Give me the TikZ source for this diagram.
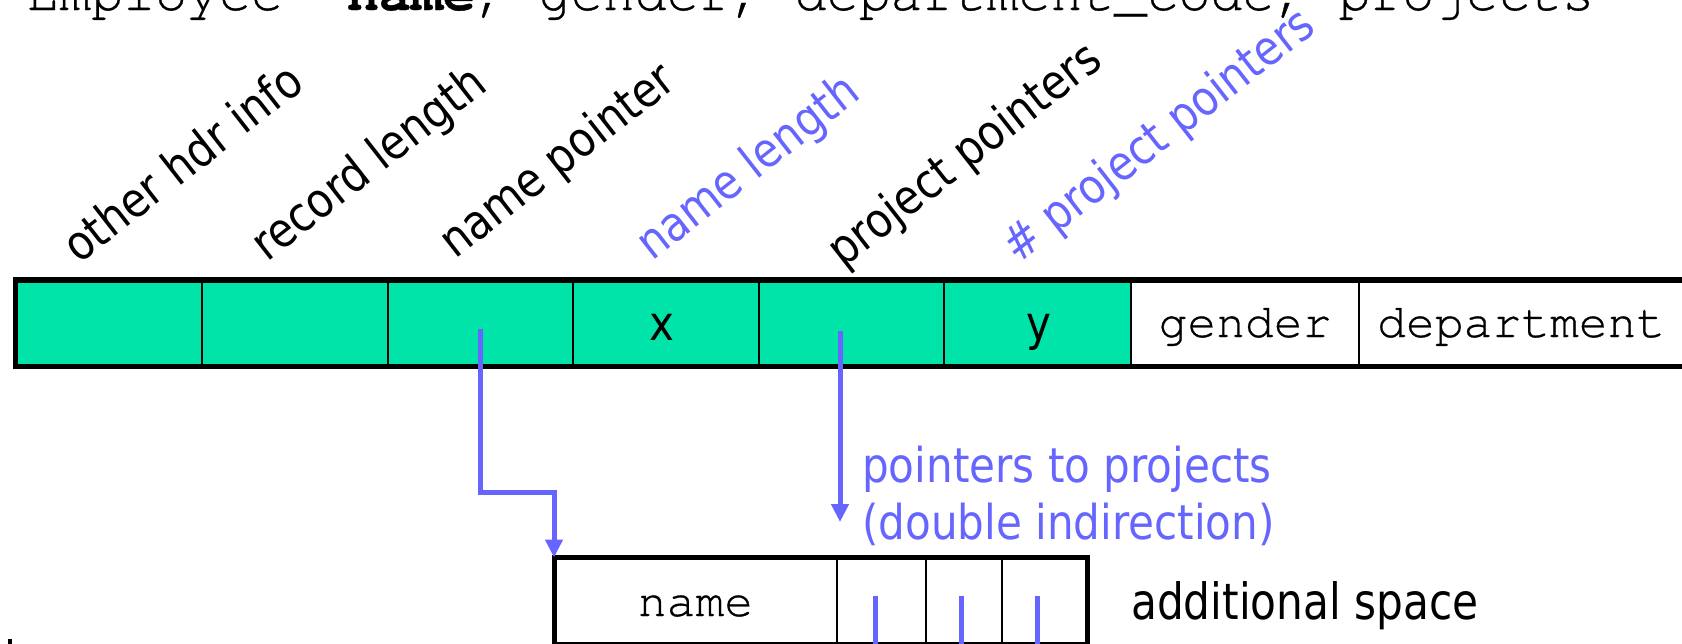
\documentclass[tikz,border=0pt]{standalone}
\usepackage{fontspec}
\usetikzlibrary{arrows.meta}
\newfontfamily\labelfont[FakeStretch=0.877]{DejaVu Sans}
\newfontfamily\notefont[FakeStretch=0.845]{DejaVu Sans}
\newfontfamily\codefont[FakeBold=0.6]{TeX Gyre Cursor}
\definecolor{cellgreen}{RGB}{0,228,170}
\definecolor{ptrblue}{RGB}{102,102,255}

\begin{document}
\begin{tikzpicture}[x=1pt,y=-1pt,
  hdrcell/.style={rectangle, draw=black, line width=2pt, fill=cellgreen,
    minimum height=86.5pt, inner sep=0pt, outer sep=0pt},
  datacell/.style={hdrcell, fill=white},
  extcell/.style={rectangle, draw=black, line width=2pt, fill=white,
    minimum height=86.5pt, inner sep=0pt, outer sep=0pt},
  frame/.style={draw=black, line width=5.5pt, line join=miter},
  ptr/.style={draw=ptrblue, line width=5pt, line join=miter},
  ptrtip/.style={ptr, -{Triangle[length=18pt,width=17pt]}},
  fieldname/.style={inner sep=0pt, font=\labelfont\fontsize{48}{58}\selectfont,
    rotate=38, anchor=base west},
  sizefield/.style={fieldname, text=ptrblue},
  celltext/.style={inner sep=0pt, anchor=base, font=\labelfont\fontsize{48}{58}\selectfont},
  codetext/.style={inner sep=0pt, font=\codefont\fontsize{48}{58}\selectfont},
  note/.style={inner sep=0pt, anchor=base west, font=\labelfont\fontsize{48}{58}\selectfont},
]
\useasboundingbox (0,0) rectangle (1682,643);
\clip (0,0) rectangle (1682,643);

% schema line across the top
\node[inner sep=0pt, anchor=base west, font=\codefont\fontsize{53.3}{60}\selectfont]
  (schema) at (27,10) {Employee\ \ \textbf{name}, gender, department\_code, projects};

% record: header fields (green) followed by fixed-length data fields
\node[hdrcell, minimum width=186.5pt] (c1) at (108.75,323.25) {};
\node[hdrcell, minimum width=186pt]   (c2) at (295,323.25) {};
\node[hdrcell, minimum width=185pt]   (c3) at (480.5,323.25) {};
\node[hdrcell, minimum width=185.5pt] (c4) at (665.75,323.25) {};
\node[hdrcell, minimum width=185.5pt] (c5) at (851.25,323.25) {};
\node[hdrcell, minimum width=187pt]   (c6) at (1037.5,323.25) {};
\node[datacell, minimum width=228pt]  (c7) at (1245,323.25) {};
\node[datacell, minimum width=441pt]  (c8) at (1579.5,323.25) {};
\draw[frame] (c8.north east) -- (c1.north west) -- (c1.south west) -- (c8.south east);

% field contents
\node[celltext] (xval) at (662,340) {x};
\node[celltext] (yval) at (1039,340) {y};
\node[codetext, anchor=base] (gender) at (1245,337) {gender};
\node[codetext, anchor=base west] (dept) at (1377,337) {department};

% field names above the record
\node[fieldname] (f1) at (79,265)   {other hdr info};
\node[fieldname] (f2) at (267,263)  {record length};
\node[fieldname] (f3) at (455,260)  {name pointer};
\node[sizefield] (f4) at (652,262)  {name length};
\node[fieldname] (f5) at (843,269)  {project pointers};
\node[sizefield] (f6) at (1018,265) {\# project pointers};

% variable-length part stored after the record
\node[extcell, minimum width=283pt]  (b1) at (695.5,600.75) {};
\node[extcell, minimum width=89pt]   (b2) at (881.5,600.75) {};
\node[extcell, minimum width=75.5pt] (b3) at (963.75,600.75) {};
\node[extcell, minimum width=86pt]   (b4) at (1044.5,600.75) {};
\draw[frame, line width=5pt] (b1.south west) -- (b1.north west) -- (b4.north east) -- (b4.south east) -- cycle;
\node[codetext, anchor=base] (nm) at (695.5,616) {name};
\node[note, font=\notefont\fontsize{50}{60}\selectfont] (addl) at (1131,619) {additional space};

% pointer stubs inside the project slots
\coordinate (s1) at (875,596);  \coordinate (s1e) at (875,650);
\coordinate (s2) at (961,596);  \coordinate (s2e) at (961,650);
\coordinate (s3) at (1037,596); \coordinate (s3e) at (1037,650);
\draw[ptr] (s1) -- (s1e);
\draw[ptr] (s2) -- (s2e);
\draw[ptr] (s3) -- (s3e);

% name pointer into the variable part
\coordinate (npTail) at (480,329);
\draw[ptrtip] (npTail) -- ++(0,163) -| (b1.north west);

% project pointers
\coordinate (ppTail) at (840,331);
\coordinate (ppTip) at (840,522);
\draw[ptrtip] (ppTail) -- (ppTip);
\node[note, text=ptrblue] (ind1) at (862,482) {pointers to projects};
\node[note, text=ptrblue] (ind2) at (862,539) {(double indirection)};

% small mark at the lower left
\fill[black] (8,639) rectangle (12,646);
\end{tikzpicture}
\end{document}
